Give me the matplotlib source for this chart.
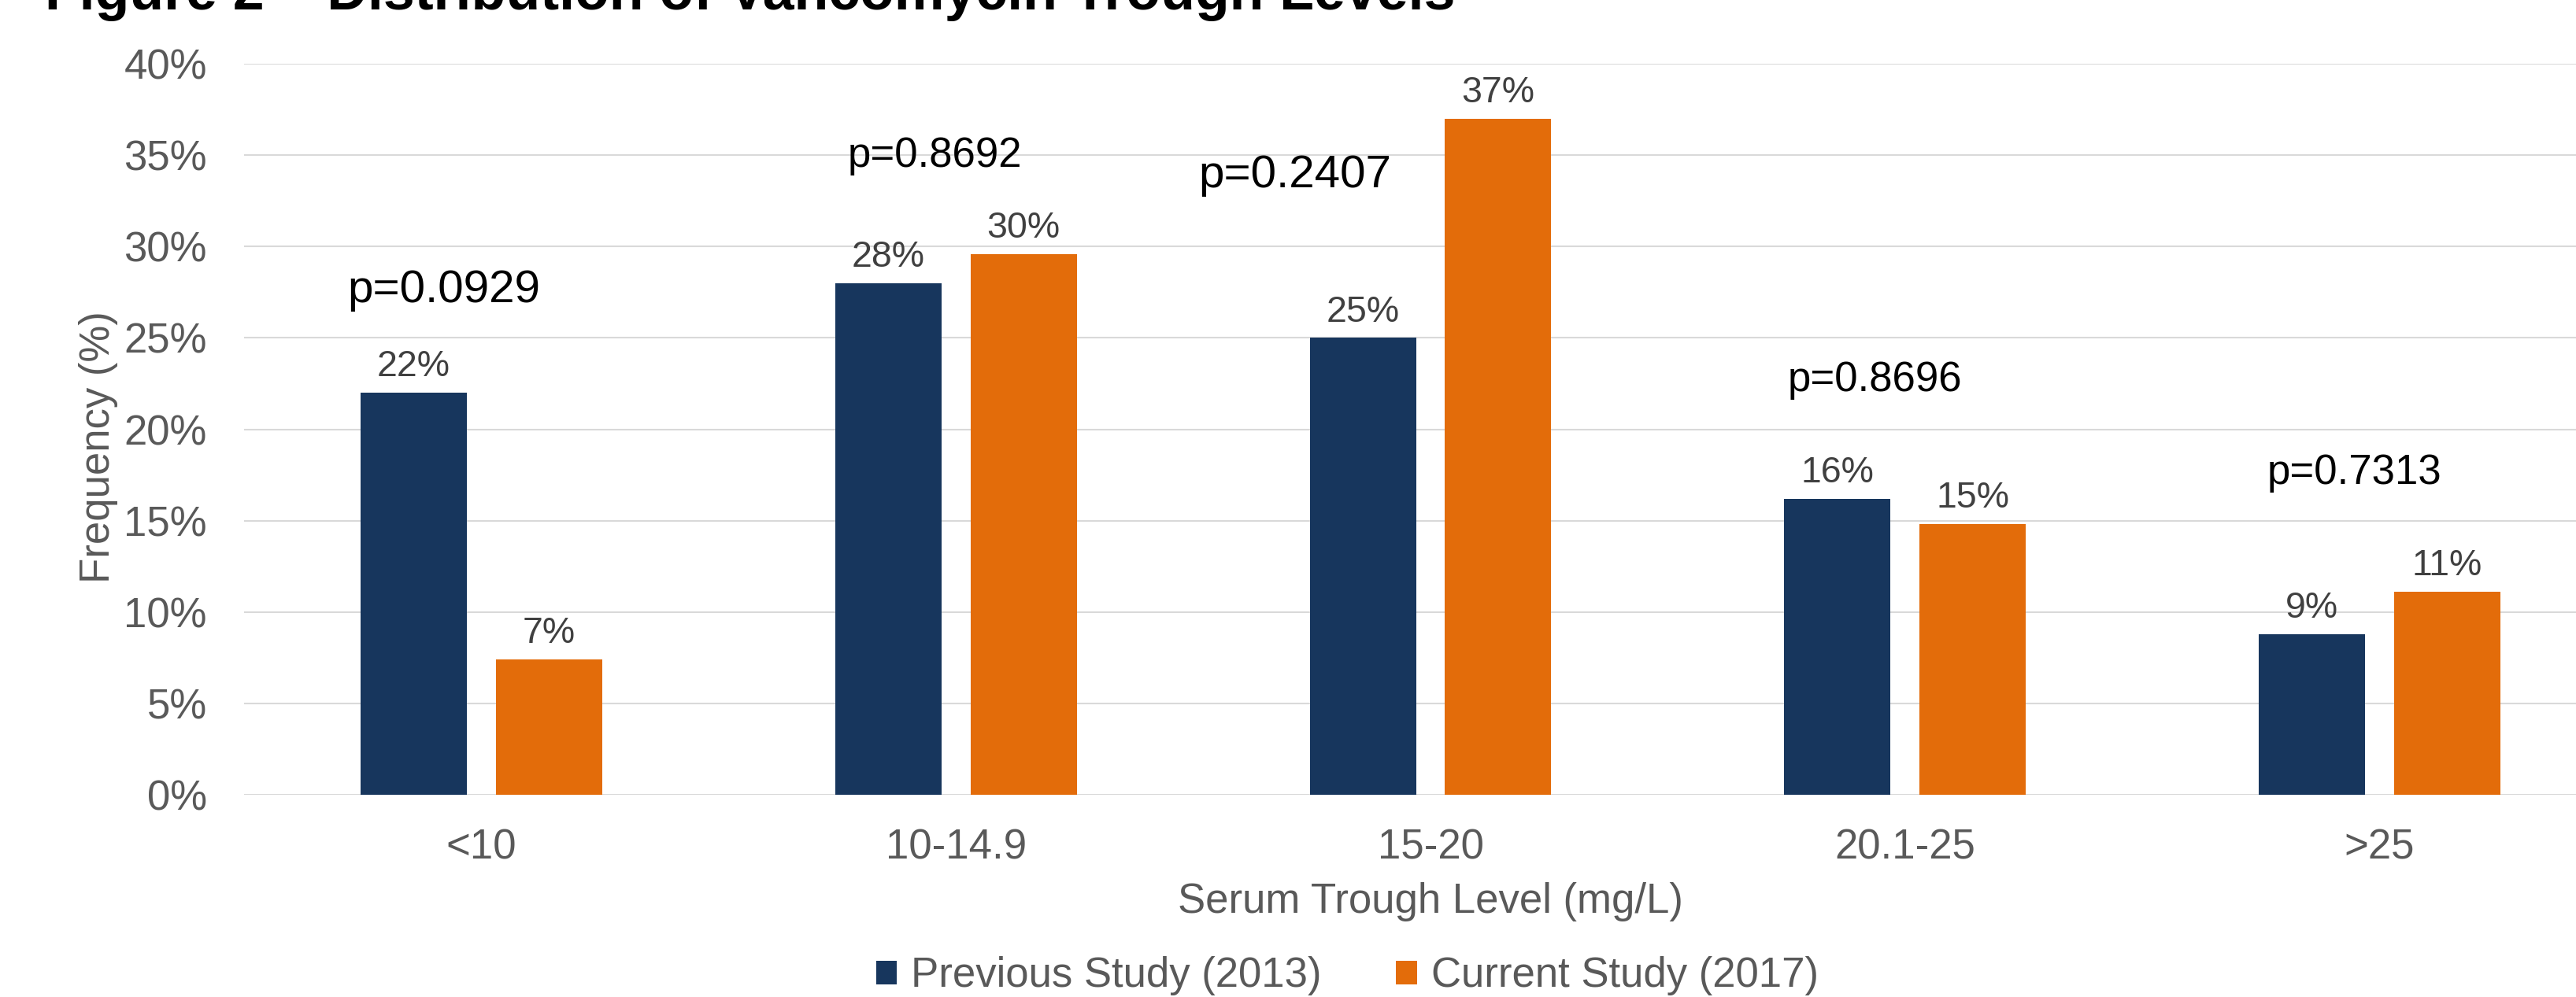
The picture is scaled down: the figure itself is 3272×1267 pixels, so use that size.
import numpy as np
import matplotlib
matplotlib.use('Agg')
import matplotlib.pyplot as plt

plt.rcParams['font.family'] = ['Liberation Sans', 'DejaVu Sans']

categories = ['<10', '10-14.9', '15-20', '20.1-25', '>25']
previous_2013 = [22.0, 28.0, 25.0, 16.2, 8.8]
current_2017 = [7.4, 29.6, 37.0, 14.8, 11.1]
series_names = ['Previous Study (2013)', 'Current Study (2017)']
p_values = ['p=0.0929', 'p=0.8692', 'p=0.2407', 'p=0.8696', 'p=0.7313']
y_ticks = [0, 5, 10, 15, 20, 25, 30, 35, 40]

# where the p-value notes sit (category index, % baseline) and their sizes
p_pos = [(-0.079, 26.95), (0.956, 34.36), (1.714, 33.24), (2.936, 22.09), (3.946, 17.0)]
p_size = [42, 38, 42, 38, 38]

blue = '#17365D'
orange = '#E36C0A'
tick_col = '#595959'
lab_col = '#404040'

fig = plt.figure(figsize=(32.73, 12.67), dpi=100)
ax = fig.add_axes([310 / 3273, 1 - 1010 / 1267, 3014 / 3273, 929 / 1267])

x = np.arange(len(categories))
w = 0.224
off = 0.1426
b1 = ax.bar(x - off, previous_2013, w, color=blue, label=series_names[0], zorder=2)
b2 = ax.bar(x + off, current_2017, w, color=orange, label=series_names[1], zorder=2)

for bars, vals in [(b1, previous_2013), (b2, current_2017)]:
    for rect, v in zip(bars, vals):
        ax.annotate('%d%%' % round(v), (rect.get_x() + rect.get_width() / 2, v),
                    xytext=(0, 15), textcoords='offset points',
                    ha='center', va='baseline', fontsize=33.5, color=lab_col)

for txt, (px, py), fs in zip(p_values, p_pos, p_size):
    ax.text(px, py, txt, ha='center', va='baseline', fontsize=fs, color='black')

ax.set_xlim(-0.5, len(categories) - 0.5)
ax.set_ylim(0, 40)
ax.set_yticks(y_ticks)
ax.set_yticklabels(['%d%%' % t for t in y_ticks])
ax.set_xticks(x)
ax.set_xticklabels(categories)
ax.tick_params(axis='both', length=0, labelsize=38, colors=tick_col)
ax.tick_params(axis='y', pad=34)
ax.tick_params(axis='x', pad=30.5)
ax.yaxis.grid(True, color='#D9D9D9', linewidth=1.5)
ax.set_axisbelow(True)
for s in ax.spines.values():
    s.set_visible(False)

ax.set_xlabel('Serum Trough Level (mg/L)', fontsize=38, color=tick_col, labelpad=13.5)
ax.set_ylabel('Frequency (%)', fontsize=38, color=tick_col)
ax.yaxis.set_label_coords(-0.053, 0.476)

fig.legend(handles=[b1, b2], labels=series_names, loc='center', ncol=2,
           bbox_to_anchor=(0.5228, 0.021), frameon=False, fontsize=38,
           handlelength=0.5, handleheight=0.5, handletextpad=0.34,
           columnspacing=1.8, labelcolor=tick_col)

fig.text(57 / 3273, 1 - 12 / 1267, 'Figure 2 \u2013 Distribution of Vancomycin Trough Levels',
         fontsize=51.6, fontweight='bold', va='baseline', ha='left', color='black')

fig.savefig('out.png', dpi=100)
